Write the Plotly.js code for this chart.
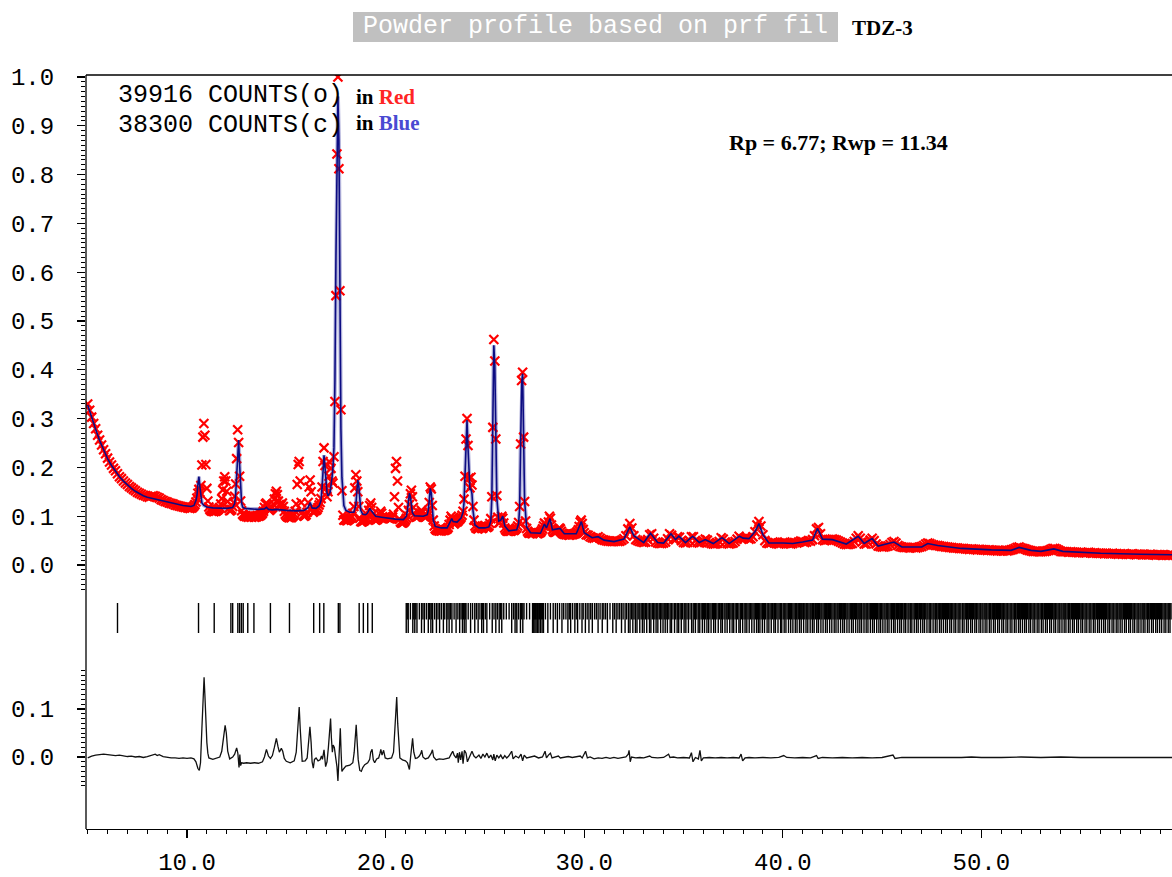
<!DOCTYPE html>
<html>
<head>
<meta charset="utf-8">
<script src="https://cdn.plot.ly/plotly-3.0.1.min.js"></script>
<style>
  html, body { margin: 0; padding: 0; background: #ffffff; overflow: hidden; }
  #chart { width: 1172px; height: 877px; }
</style>
</head>
<body>
<div id="chart"></div>
<script>
// ---------------- Powder profile data (2-theta in degrees, intensity in 1/1000 of full scale) ----------------

// Observed points: three scan segments, each with its own start and step
const obsLowStart = 5.0, obsLowStep = 0.1;
const obsLow = [
  330,317,303,290,279,266,256,246,236,228,
  219,211,205,198,193,187,181,177,172,168,
  165,161,158,155,152,149,147,145,143,142,
  140,139,141,142,141,139,137,134,132,130,
  129,127,126,125,123,122,121,120,119,118
];

const obsMidStart = 10.0, obsMidStep = 0.05;
const obsMid = [
  118,117,118,116,118,117,119,121,124,129,137,147,155,149,163,205,262,290,266,206,
  157,131,119,114,112,110,111,109,111,110,112,113,115,118,125,136,154,172,181,172,
  151,130,116,111,112,114,120,128,141,166,218,277,251,182,131,111,104,102,100,101,
  99,100,98,101,99,98,100,100,98,99,99,101,100,101,102,104,106,110,118,125,
  127,123,115,112,114,116,118,125,135,146,151,144,131,124,121,124,127,120,110,104,
  101,99,98,97,98,97,99,101,104,110,125,165,206,212,172,128,108,102,100,101,
  103,108,128,160,174,150,118,108,110,113,112,114,118,123,128,136,160,212,240,204,
  158,140,150,182,210,198,172,168,222,335,552,842,1000,812,562,318,152,102,92,93,
  92,91,92,94,95,97,100,106,120,158,185,172,150,120,96,89,88,89,90,92,
  94,97,102,112,122,127,118,104,96,93,92,93,94,97,104,110,106,99,96,97,
  99,98,97,96,95,95,96,98,104,140,198,212,172,118,94,88,86,86,87,89,
  92,96,101,112,124,146,153,140,118,104,99,98,99,100,102,106,112,108,101,99,
  98,99,101,108,128,160,156,122,92,80,74,72,71,71,70,71,70,71,72,71,
  72,73,74,77,83,92,100,96,87,84,86,89,88,90,93,95,98,102,110,135,
  182,258,300,245,178,158,180,164,120,92,80,76,75,74,76,78,77,75,76,79,
  81,79,77,78,80,85,95,140,282,462,418,258,142,98,86,87,94,100,96,86,
  76,72,70,69,69,70,69,71,72,71,72,74,76,80,87,120,248,378,395,262,
  130,90,75,69,66,65,66,65,64,66,68,67,65,64,65,66,67,70,74,80,
  86,84,77,78,88,100,96,82,72,68,67,67,68,70,73,76,74,69,65,64,
  63,63,62,63,62,61,62,63,62,63,64,64,66,68,72,79,88,92,85,73
];

const obsHighStart = 30.0, obsHighStep = 0.1;
const obsHigh = [
  66,62,61,58,56,55,56,58,55,52,
  51,50,49,49,48,48,49,48,49,51,
  54,60,74,85,76,60,52,50,48,47,
  46,47,52,62,64,55,47,45,44,44,
  45,47,54,64,61,53,52,58,57,50,
  46,45,46,50,58,58,50,46,45,46,
  49,53,51,46,44,43,43,44,48,56,
  53,47,44,43,44,45,48,53,59,55,
  54,56,56,53,54,58,68,82,89,80,
  62,50,45,44,45,47,46,44,43,44,
  46,47,45,44,43,44,46,45,47,49,
  48,46,47,50,49,52,60,74,77,64,
  52,50,51,52,52,53,52,51,49,47,
  45,43,42,42,43,44,48,55,60,55,
  47,43,43,46,51,55,50,43,39,38,
  37,37,38,39,42,46,48,45,40,38,
  37,36,36,36,35,36,36,35,36,37,
  38,40,43,45,44,42,41,40,40,39,
  38,38,37,37,36,36,35,35,35,34,
  34,34,33,33,32,33,32,32,31,32,
  31,31,31,30,31,30,30,30,29,30,
  29,29,30,29,30,31,32,34,36,37,
  35,34,33,31,30,29,28,28,28,27,
  27,28,28,29,30,32,34,34,32,30,
  28,27,27,27,26,27,26,26,26,25,
  26,25,25,25,26,25,24,25,24,24,
  24,24,23,24,23,23,24,23,23,22,
  23,22,23,22,22,22,23,22,21,22,
  22,21,22,21,21,22,21,21,20,21,
  21,20,21,20,20,21,20
];

// Calculated profile: [2-theta, intensity]
const calcProfile = [
  [5.0,328],[5.2,301],[5.4,278],[5.6,255],[5.8,235],[6.0,218],[6.2,204],[6.4,192],[6.6,181],[6.8,172],
  [7.0,164],[7.2,157],[7.4,151],[7.6,146],[7.8,142],[8.0,139],[8.3,136],[8.6,133],[9.0,129],[9.4,125],
  [9.8,122],[10.2,120],[10.35,122],[10.45,132],[10.5,142],[10.55,165],[10.6,181],[10.65,160],[10.7,138],[10.75,127],
  [10.85,122],[11.0,119],[11.3,117],[11.6,116],[12.0,116],[12.3,118],[12.4,126],[12.45,145],[12.5,190],[12.55,245],
  [12.6,256],[12.65,205],[12.7,150],[12.75,127],[12.8,119],[12.9,116],[13.2,115],[13.6,114],[13.9,115],[14.0,118],
  [14.1,114],[14.3,113],[14.5,114],[14.7,113],[15.0,112],[15.5,111],[15.9,112],[16.1,118],[16.2,128],[16.3,117],
  [16.5,116],[16.65,121],[16.75,132],[16.8,158],[16.85,200],[16.9,225],[16.95,200],[17.0,162],[17.05,148],[17.1,142],
  [17.2,148],[17.3,178],[17.35,200],[17.4,240],[17.45,380],[17.5,630],[17.55,880],[17.6,960],[17.65,870],[17.7,500],
  [17.75,280],[17.8,180],[17.85,140],[17.9,122],[18.0,112],[18.2,108],[18.4,108],[18.5,122],[18.55,148],[18.6,174],
  [18.65,162],[18.7,130],[18.75,112],[18.85,104],[19.0,103],[19.1,107],[19.2,116],[19.3,110],[19.5,100],[19.8,98],
  [20.1,96],[20.5,94],[20.9,93],[21.05,100],[21.1,112],[21.15,130],[21.2,147],[21.25,140],[21.3,122],[21.35,107],
  [21.45,101],[21.7,100],[21.9,100],[22.1,103],[22.15,112],[22.2,133],[22.25,157],[22.3,148],[22.35,118],[22.4,92],
  [22.5,79],[22.8,76],[23.1,76],[23.25,88],[23.33,95],[23.4,89],[23.6,88],[23.8,96],[23.9,108],[23.95,128],
  [24.0,180],[24.05,262],[24.1,297],[24.15,240],[24.2,178],[24.25,154],[24.3,156],[24.35,146],[24.4,112],[24.5,82],
  [24.7,76],[25.0,76],[25.2,78],[25.3,90],[25.35,138],[25.4,285],[25.45,450],[25.5,410],[25.55,250],[25.6,138],
  [25.7,90],[25.8,92],[25.9,100],[26.0,80],[26.2,70],[26.6,72],[26.7,85],[26.75,118],[26.8,245],[26.85,372],
  [26.9,392],[26.95,262],[27.0,132],[27.1,78],[27.3,66],[27.8,65],[28.0,84],[28.1,76],[28.28,95],[28.4,72],
  [28.78,75],[29.0,64],[29.6,64],[29.86,89],[30.0,66],[30.4,56],[30.7,58],[31.0,51],[31.5,48],[32.0,53],
  [32.3,78],[32.5,60],[33.0,46],[33.34,65],[33.7,46],[34.0,45],[34.37,64],[34.6,52],[34.77,59],[35.1,46],
  [35.46,59],[35.8,46],[36.1,52],[36.5,44],[36.94,56],[37.3,44],[37.82,59],[38.0,55],[38.3,54],[38.6,68],
  [38.8,85],[39.0,62],[39.3,45],[40.0,45],[40.5,44],[41.0,47],[41.5,51],[41.75,75],[42.0,53],[42.5,52],
  [43.2,43],[43.8,59],[44.1,44],[44.5,54],[44.8,39],[45.6,47],[46.0,37],[47.0,37],[47.3,44],[47.8,40],
  [49.0,34],[50.5,31],[51.5,30],[51.9,36],[52.5,30],[53.0,28],[53.65,33],[54.1,28],[56.0,24],[58.0,22],
  [59.6,21]
];

// Difference curve (observed - calculated): [2-theta, intensity]
const diffProfile = [
  [5.0,-2],[5.2,2],[5.4,4],[5.6,5],[5.8,6],[6.0,5],[6.2,4],[6.4,3],[6.6,4],[6.8,2],
  [7.0,1],[7.2,2],[7.4,0],[7.6,1],[7.8,-1],[8.0,1],[8.2,3],[8.4,6],[8.5,3],[8.6,5],
  [8.8,1],[9.0,-1],[9.2,-2],[9.4,-2],[9.6,-3],[9.8,-2],[10.0,-3],[10.2,-2],[10.35,-4],[10.45,-10],
  [10.55,-24],[10.62,-28],[10.68,-12],[10.75,60],[10.82,140],[10.86,166],[10.9,130],[10.95,70],[11.0,30],[11.05,8],
  [11.1,-2],[11.3,-5],[11.5,-3],[11.65,0],[11.75,12],[11.85,45],[11.92,66],[11.98,50],[12.05,12],[12.15,-4],
  [12.3,0],[12.4,6],[12.5,19],[12.56,8],[12.62,-22],[12.66,5],[12.7,-18],[12.75,-12],[12.85,-13],[13.0,-12],
  [13.2,-13],[13.4,-12],[13.6,-13],[13.8,-10],[13.9,0],[14.0,16],[14.1,2],[14.2,-3],[14.3,3],[14.4,20],
  [14.5,39],[14.58,22],[14.65,10],[14.75,18],[14.82,12],[14.9,-3],[15.0,-9],[15.2,-12],[15.4,-8],[15.5,10],
  [15.58,70],[15.65,104],[15.7,60],[15.75,10],[15.8,-9],[15.95,-8],[16.05,-2],[16.12,30],[16.19,63],[16.25,30],
  [16.3,-10],[16.36,-23],[16.42,-5],[16.5,-2],[16.6,-8],[16.7,-6],[16.77,2],[16.82,-5],[16.9,15],[16.98,-20],
  [17.05,-10],[17.12,20],[17.18,60],[17.23,80],[17.27,40],[17.32,10],[17.36,25],[17.42,20],[17.5,-5],[17.55,-20],
  [17.6,-50],[17.64,-10],[17.68,30],[17.72,60],[17.76,10],[17.8,-30],[17.88,-25],[18.0,-19],[18.2,-17],[18.35,-12],
  [18.42,10],[18.48,50],[18.52,67],[18.57,30],[18.62,-5],[18.7,-28],[18.78,-30],[18.85,-22],[18.95,-16],[19.1,-12],
  [19.2,-5],[19.25,10],[19.32,16],[19.38,-6],[19.45,-12],[19.55,-4],[19.65,-2],[19.72,8],[19.76,16],[19.82,4],
  [19.9,14],[19.98,-2],[20.1,-4],[20.3,-2],[20.4,10],[20.47,60],[20.52,110],[20.56,125],[20.61,70],[20.66,20],
  [20.72,-2],[20.85,-6],[21.0,-8],[21.1,-12],[21.2,-26],[21.26,0],[21.32,28],[21.36,39],[21.42,10],[21.5,-3],
  [21.6,-2],[21.7,2],[21.78,8],[21.82,14],[21.88,0],[22.0,-4],[22.15,-2],[22.22,2],[22.3,8],[22.36,15],
  [22.42,0],[22.55,-6],[22.7,-4],[22.9,-5],[23.1,-4],[23.2,-2],[23.3,6],[23.38,12],[23.45,4],[23.55,-2],
  [23.62,8],[23.66,-12],[23.72,10],[23.78,-6],[23.85,12],[23.9,-14],[23.97,14],[24.05,8],[24.12,-10],[24.18,-4],
  [24.25,6],[24.35,12],[24.45,2],[24.55,-2],[24.7,4],[24.8,-3],[24.9,6],[25.0,0],[25.1,8],[25.2,-2],
  [25.3,4],[25.4,-6],[25.45,6],[25.52,-8],[25.6,4],[25.7,-2],[25.8,4],[25.9,-4],[26.0,3],[26.1,-2],
  [26.2,2],[26.35,12],[26.42,-4],[26.55,2],[26.7,-2],[26.82,6],[26.9,-8],[26.98,4],[27.1,-2],[27.3,0],
  [27.5,2],[27.7,-2],[27.9,0],[28.03,12],[28.1,-2],[28.2,4],[28.3,8],[28.38,-2],[28.5,0],[28.7,2],
  [28.8,-2],[29.0,0],[29.2,1],[29.4,-1],[29.6,0],[29.8,2],[29.9,-2],[30.07,12],[30.16,-2],[30.3,0],
  [30.5,-4],[30.7,-2],[30.9,-3],[31.1,-1],[31.3,-3],[31.5,-1],[31.7,-3],[31.9,-2],[32.1,0],[32.22,6],
  [32.26,14],[32.32,-10],[32.38,0],[32.6,-2],[32.8,-1],[33.0,-2],[33.2,0],[33.3,2],[33.4,-1],[33.7,-2],
  [34.0,-1],[34.25,6],[34.32,-1],[34.5,0],[34.7,-2],[35.0,-1],[35.3,-2],[35.4,9],[35.48,-10],[35.6,-1],
  [35.75,-4],[35.83,14],[35.9,-8],[36.0,-2],[36.3,-1],[36.6,-2],[36.9,-1],[37.2,-2],[37.5,-1],[37.8,-2],
  [37.9,6],[37.98,-8],[38.1,-2],[38.3,-1],[38.6,-2],[39.0,-1],[39.4,-2],[39.8,-1],[40.05,3],[40.2,-1],
  [40.6,-2],[41.0,-1],[41.4,-2],[41.7,3],[41.78,-3],[42.0,-1],[42.5,-2],[43.0,-1],[43.5,-2],[44.0,-1],
  [44.5,-2],[45.0,-1],[45.55,4],[45.65,-3],[46.0,-1],[47.0,-1],[47.5,-2],[48.0,-1],[49.0,-1],[49.5,0],
  [50.0,-1],[51.0,-1],[52.0,0],[53.0,-1],[54.0,0],[55.0,-1],[57.0,-1],[59.6,-1]
];

// Bragg reflection positions (2-theta), drawn as full-height bars
const braggPos = [
  6.50, 10.58, 11.37, 12.21, 12.30, 12.56, 12.65, 12.74, 12.83, 13.06, 13.37, 14.20, 15.16,
  16.38, 16.68, 16.89, 17.62, 17.70, 18.67, 18.88, 19.10, 19.33,
  21.04, 21.14, 21.37, 21.47, 21.58, 21.81, 21.95, 22.15, 22.28, 22.37, 22.56, 22.72, 22.91,
  23.08, 23.20, 23.34, 23.55, 23.73, 23.87, 23.96, 24.05, 24.28, 24.49, 24.66, 24.84, 24.93,
  25.10, 25.37, 25.55, 25.72, 25.85, 26.35, 26.52, 26.61, 26.79, 26.91, 27.40, 27.46, 27.52,
  27.58, 27.65, 27.72, 27.80, 27.88, 27.95, 28.17, 28.44, 28.65, 28.88, 29.18, 29.32, 29.53,
  29.67, 29.89, 30.06, 30.24, 30.41, 30.70, 30.91, 31.17, 31.44, 31.61, 31.88,
  32.06, 32.23, 32.31, 32.45, 32.58, 32.66, 32.80, 32.93,
  33.02, 33.15, 33.29, 33.36, 33.50, 33.62, 33.71, 33.85, 33.97,
  34.08, 34.19, 34.33, 34.40, 34.55, 34.68, 34.76, 34.89,
  35.03, 35.12, 35.25, 35.41, 35.49, 35.60, 35.74, 35.82, 35.95,
  36.06, 36.18, 36.27, 36.39, 36.52, 36.61, 36.75, 36.88, 36.96,
  37.09, 37.20, 37.33, 37.45, 37.53, 37.66, 37.79, 37.86, 37.98,
  38.10, 38.19, 38.31, 38.44, 38.56, 38.68, 38.77, 38.85, 38.97,
  39.08, 39.21, 39.30, 39.42, 39.55, 39.63, 39.76, 39.89, 39.95,
  40.07, 40.16, 40.29, 40.40, 40.51, 40.63, 40.72, 40.84, 40.93,
  41.05, 41.17, 41.26, 41.38, 41.49, 41.58, 41.71, 41.80, 41.92,
  42.03, 42.15, 42.24, 42.36, 42.47, 42.59, 42.68, 42.79, 42.91,
  43.02, 43.11, 43.23, 43.34, 43.46, 43.55, 43.67, 43.78, 43.88, 43.97,
  44.09, 44.20, 44.29, 44.41, 44.52, 44.61, 44.73, 44.84, 44.93,
  45.04, 45.15, 45.26, 45.35, 45.47, 45.58, 45.66, 45.78, 45.89, 45.98,
  46.10, 46.19, 46.31, 46.42, 46.50, 46.62, 46.73, 46.82, 46.94,
  47.05, 47.14, 47.26, 47.37, 47.45, 47.57, 47.68, 47.77, 47.89, 47.98,
  48.09, 48.20, 48.29, 48.41, 48.50, 48.62, 48.71, 48.83, 48.92,
  49.04, 49.13, 49.25, 49.34, 49.46, 49.55, 49.67, 49.76, 49.88, 49.97,
  50.08, 50.19, 50.28, 50.40, 50.49, 50.61, 50.70, 50.82, 50.91,
  51.03, 51.12, 51.24, 51.33, 51.45, 51.54, 51.66, 51.75, 51.87, 51.96,
  52.07, 52.18, 52.27, 52.39, 52.48, 52.60, 52.69, 52.81, 52.90,
  53.02, 53.11, 53.23, 53.32, 53.44, 53.53, 53.65, 53.74, 53.86, 53.95,
  54.06, 54.17, 54.26, 54.38, 54.47, 54.59, 54.68, 54.80, 54.89,
  55.01, 55.10, 55.22, 55.31, 55.43, 55.52, 55.64, 55.73, 55.85, 55.94,
  56.05, 56.16, 56.25, 56.37, 56.46, 56.58, 56.67, 56.79, 56.88, 56.99,
  57.09, 57.21, 57.30, 57.42, 57.51, 57.63, 57.72, 57.84, 57.93,
  58.04, 58.15, 58.24, 58.36, 58.45, 58.57, 58.66, 58.78, 58.87, 58.98,
  59.08, 59.20, 59.29, 59.41, 59.50
];

// Further reflections, drawn as half-height bars in the upper part of the band
const braggPosShort = [
  21.09, 21.25, 21.42, 21.52, 21.70, 21.88,
  22.05, 22.21, 22.33, 22.47, 22.64, 22.81, 22.98,
  23.14, 23.27, 23.45, 23.64, 23.80, 23.92,
  24.01, 24.16, 24.38, 24.57, 24.75, 24.89,
  25.02, 25.24, 25.46, 25.63, 25.79, 25.95,
  26.08, 26.22, 26.44, 26.57, 26.70, 26.85, 26.97,
  27.10, 27.25, 27.43, 27.49, 27.55, 27.62, 27.68, 27.76, 27.84, 27.91,
  28.05, 28.30, 28.55, 28.76, 28.97,
  29.08, 29.25, 29.42, 29.60, 29.78, 29.95,
  30.15, 30.33, 30.52, 30.61, 30.80, 30.99,
  31.08, 31.30, 31.52, 31.70, 31.79, 31.96,
  32.14, 32.38, 32.51, 32.72, 32.87, 32.97,
  33.09, 33.22, 33.43, 33.56, 33.66, 33.78, 33.91,
  34.03, 34.13, 34.26, 34.47, 34.61, 34.72, 34.83, 34.95,
  35.07, 35.18, 35.33, 35.55, 35.67, 35.78, 35.89,
  36.01, 36.12, 36.22, 36.33, 36.46, 36.57, 36.68, 36.81, 36.92,
  37.04, 37.15, 37.26, 37.39, 37.49, 37.60, 37.72, 37.92,
  38.05, 38.14, 38.25, 38.37, 38.50, 38.62, 38.73, 38.81, 38.91,
  39.02, 39.14, 39.26, 39.36, 39.48, 39.59, 39.70, 39.82, 39.92,
  40.02, 40.11, 40.22, 40.34, 40.45, 40.57, 40.68, 40.78, 40.88, 40.98,
  41.11, 41.21, 41.32, 41.43, 41.54, 41.64, 41.76, 41.86, 41.97,
  42.09, 42.20, 42.30, 42.41, 42.53, 42.63, 42.74, 42.85, 42.96,
  43.07, 43.17, 43.28, 43.40, 43.51, 43.61, 43.72, 43.83, 43.93,
  44.04, 44.14, 44.25, 44.35, 44.46, 44.57, 44.67, 44.78, 44.89, 44.98,
  45.10, 45.21, 45.30, 45.41, 45.52, 45.62, 45.72, 45.83, 45.94,
  46.04, 46.14, 46.25, 46.36, 46.46, 46.56, 46.68, 46.78, 46.88, 46.99,
  47.10, 47.20, 47.31, 47.41, 47.51, 47.62, 47.73, 47.83, 47.93,
  48.04, 48.14, 48.25, 48.35, 48.46, 48.56, 48.67, 48.77, 48.88, 48.97,
  49.08, 49.19, 49.30, 49.40, 49.51, 49.61, 49.72, 49.82, 49.93,
  50.03, 50.14, 50.24, 50.34, 50.45, 50.55, 50.66, 50.76, 50.87, 50.97,
  51.08, 51.18, 51.29, 51.39, 51.50, 51.60, 51.71, 51.81, 51.92,
  52.02, 52.13, 52.23, 52.33, 52.44, 52.54, 52.65, 52.75, 52.86, 52.96,
  53.07, 53.17, 53.28, 53.38, 53.49, 53.59, 53.70, 53.80, 53.91,
  54.01, 54.12, 54.22, 54.32, 54.43, 54.53, 54.64, 54.74, 54.85, 54.95,
  55.06, 55.16, 55.27, 55.37, 55.48, 55.58, 55.69, 55.79, 55.90,
  56.00, 56.11, 56.21, 56.31, 56.42, 56.52, 56.63, 56.73, 56.84, 56.94,
  57.04, 57.15, 57.26, 57.36, 57.47, 57.57, 57.68, 57.78, 57.89, 57.99,
  58.10, 58.20, 58.30, 58.41, 58.51, 58.62, 58.72, 58.83, 58.93,
  59.03, 59.14, 59.25, 59.35, 59.46, 59.55
];

// Header numbers
const countsObs = 39916;
const countsCalc = 38300;
const rFactorP = 6.77;
const rFactorWP = 11.34;
const sampleName = 'TDZ-3';
const headerText = 'Powder profile based on prf fil';

// Scale: intensities are stored in thousandths of full scale
const SCALE = 1000;

// ---------------- build traces ----------------
function expandScan(start, step, values) {
  const xs = [], ys = [];
  values.forEach((v, i) => {
    xs.push(+(start + i * step).toFixed(3));
    ys.push(v / SCALE);
  });
  return { xs, ys };
}
const segLow = expandScan(obsLowStart, obsLowStep, obsLow);
const segMid = expandScan(obsMidStart, obsMidStep, obsMid);
const segHigh = expandScan(obsHighStart, obsHighStep, obsHigh);
const obsX = segLow.xs.concat(segMid.xs, segHigh.xs);
const obsY = segLow.ys.concat(segMid.ys, segHigh.ys);

const calcX = calcProfile.map(p => p[0]);
const calcY = calcProfile.map(p => p[1] / SCALE);
const diffX = diffProfile.map(p => p[0]);
const diffY = diffProfile.map(p => p[1] / SCALE);

function barSegments(positions, y0, y1) {
  const xs = [], ys = [];
  positions.forEach(p => { xs.push(p, p, null); ys.push(y0, y1, null); });
  return { xs, ys };
}
const barsFull = barSegments(braggPos, 0, 1);
const barsShort = barSegments(braggPosShort, 0.45, 1);

const MONO = 'Liberation Mono, DejaVu Sans Mono, monospace';
const SERIF = 'Liberation Serif, DejaVu Serif, serif';

const traces = [
  { // soft halo under the calculated curve
    x: calcX, y: calcY, xaxis: 'x', yaxis: 'y', mode: 'lines',
    line: { color: 'rgba(150,150,205,0.7)', width: 4 }, hoverinfo: 'skip'
  },
  { // observed points
    x: obsX, y: obsY, xaxis: 'x', yaxis: 'y', mode: 'markers',
    marker: { symbol: 'x-thin-open', size: 9, color: '#ff0000', line: { color: '#ff0a0a', width: 2.2 } }
  },
  { // calculated profile
    x: calcX, y: calcY, xaxis: 'x', yaxis: 'y', mode: 'lines',
    line: { color: '#0c0c82', width: 1.6 }
  },
  { // Bragg positions
    x: barsFull.xs, y: barsFull.ys, xaxis: 'x', yaxis: 'y3', mode: 'lines',
    line: { color: '#000000', width: 1.4 }, connectgaps: false
  },
  {
    x: barsShort.xs, y: barsShort.ys, xaxis: 'x', yaxis: 'y3', mode: 'lines',
    line: { color: '#000000', width: 1.4 }, connectgaps: false
  },
  { // difference curve
    x: diffX, y: diffY, xaxis: 'x', yaxis: 'y2', mode: 'lines',
    line: { color: '#111111', width: 1.3 }
  }
];

// ---------------- layout ----------------
const W = 1172, H = 877;
const ML = 86, MR = 0, MT = 75, MB = 48;
const plotW = W - ML - MR, plotH = H - MT - MB;
const PX = px => (px - ML) / plotW;           // pixel -> paper x
const PY = py => (H - MB - py) / plotH;       // pixel -> paper y

const lowerMinor = [];
for (let k = -6; k <= 18; k++) lowerMinor.push(k / 100);

const tickFont = { family: MONO, size: 24, color: '#000000' };

const layout = {
  width: W, height: H,
  margin: { l: ML, r: MR, t: MT, b: MB, pad: 0 },
  paper_bgcolor: '#ffffff', plot_bgcolor: '#ffffff',
  showlegend: false,
  xaxis: {
    range: [4.914, 59.6], anchor: 'y2',
    showline: true, linecolor: '#000000', linewidth: 1.3,
    ticks: 'outside', ticklen: 8, tickwidth: 1.2, tickcolor: '#000000',
    tick0: 0, dtick: 10, tickformat: '.1f', tickfont: tickFont, ticklabelstandoff: 3,
    minor: { dtick: 1, ticks: 'outside', ticklen: 4, tickcolor: '#000000', tickwidth: 1 },
    showgrid: false, zeroline: false
  },
  yaxis: {
    domain: [PY(590), 1], range: [-0.0512, 1.004],
    showline: false, ticks: 'outside', ticklen: 8, tickwidth: 1.2, tickcolor: '#000000',
    tick0: 0, dtick: 0.1, tickformat: '.1f', tickfont: tickFont, ticklabelstandoff: 18,
    minor: { dtick: 0.01, ticks: 'outside', ticklen: 4, tickcolor: '#000000', tickwidth: 1 },
    showgrid: false, zeroline: false
  },
  yaxis2: {
    domain: [0, PY(650)], range: [-0.15, 0.2229],
    showline: false, ticks: 'outside', ticklen: 8, tickwidth: 1.2, tickcolor: '#000000',
    tickmode: 'array', tickvals: [0, 0.1], ticktext: ['0.0', '0.1'],
    tickfont: tickFont, ticklabelstandoff: 18,
    minor: { tickmode: 'array', tickvals: lowerMinor, ticks: 'outside', ticklen: 4, tickcolor: '#000000', tickwidth: 1 },
    showgrid: false, zeroline: false
  },
  yaxis3: {
    domain: [PY(633), PY(603)], range: [0, 1], visible: false, fixedrange: true
  },
  shapes: [
    // frame: left and top edges
    { type: 'line', xref: 'paper', yref: 'paper', x0: 0, x1: 0, y0: 0, y1: 1, line: { color: '#000000', width: 1.3 } },
    { type: 'line', xref: 'paper', yref: 'paper', x0: 0, x1: 1, y0: 1, y1: 1, line: { color: '#000000', width: 1.3 } },
    // grey header box
    { type: 'rect', xref: 'paper', yref: 'paper', x0: PX(353), x1: PX(838), y0: PY(42), y1: PY(12),
      fillcolor: '#c0c0c0', line: { width: 0 }, layer: 'above' }
  ],
  annotations: [
    { xref: 'paper', yref: 'paper', x: PX(595.5), y: PY(27), xanchor: 'center', yanchor: 'middle',
      text: headerText, showarrow: false, font: { family: MONO, size: 25, color: '#ffffff' } },
    { xref: 'paper', yref: 'paper', x: PX(850), y: PY(28), xanchor: 'left', yanchor: 'middle',
      text: '<b>' + sampleName + '</b>', showarrow: false, font: { family: SERIF, size: 21, color: '#000000' } },
    { xref: 'paper', yref: 'paper', x: PX(116), y: PY(95), xanchor: 'left', yanchor: 'middle',
      text: countsObs + ' COUNTS(o)', showarrow: false, font: { family: MONO, size: 25, color: '#000000' } },
    { xref: 'paper', yref: 'paper', x: PX(116), y: PY(126), xanchor: 'left', yanchor: 'middle',
      text: countsCalc + ' COUNTS(c)', showarrow: false, font: { family: MONO, size: 25, color: '#000000' } },
    { xref: 'paper', yref: 'paper', x: PX(354), y: PY(97), xanchor: 'left', yanchor: 'middle',
      text: '<b>in <span style="color:#ff2525">Red</span></b>', showarrow: false,
      font: { family: SERIF, size: 21, color: '#000000' } },
    { xref: 'paper', yref: 'paper', x: PX(354), y: PY(123), xanchor: 'left', yanchor: 'middle',
      text: '<b>in <span style="color:#4a4ad2">Blue</span></b>', showarrow: false,
      font: { family: SERIF, size: 21, color: '#000000' } },
    { xref: 'paper', yref: 'paper', x: PX(727), y: PY(142), xanchor: 'left', yanchor: 'middle',
      text: '<b>Rp = ' + rFactorP.toFixed(2) + '; Rwp = ' + rFactorWP.toFixed(2) + '</b>', showarrow: false,
      font: { family: SERIF, size: 22, color: '#000000' } }
  ]
};

Plotly.newPlot('chart', traces, layout, { displayModeBar: false, staticPlot: true });
</script>
</body>
</html>
